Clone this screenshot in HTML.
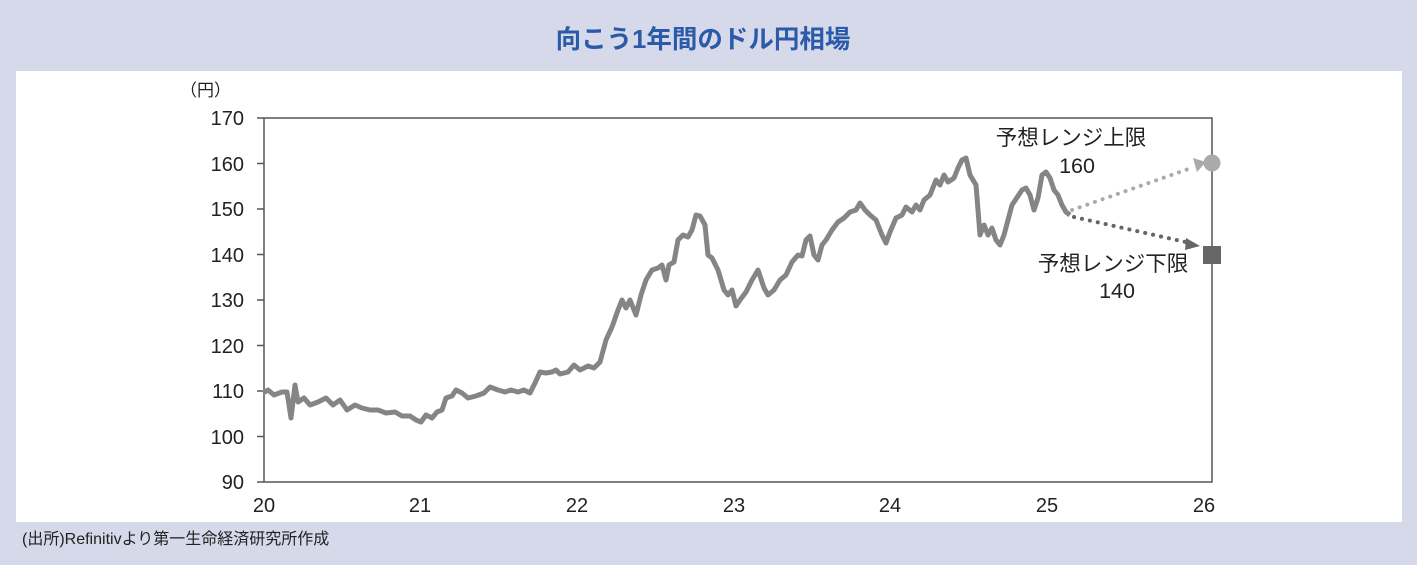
<!DOCTYPE html>
<html><head><meta charset="utf-8"><style>
body{margin:0;width:1417px;height:565px;background:#d5d9ea;overflow:hidden;font-family:"Liberation Sans","Noto Sans CJK JP",sans-serif;}
</style></head><body>
<svg width="1417" height="565" xmlns="http://www.w3.org/2000/svg" style="position:absolute;left:0;top:0">
<rect x="16" y="71" width="1386" height="451" fill="#fff"/>
<text x="703" y="48" text-anchor="middle" font-size="25.5" font-weight="bold" fill="#2a5aa8" font-family="Liberation Sans, Noto Sans CJK JP, sans-serif">向こう1年間のドル円相場</text>
<text x="22" y="544" font-size="16" fill="#222" font-family="Liberation Sans, Noto Sans CJK JP, sans-serif">(出所)Refinitivより第一生命経済研究所作成</text>
<text x="180" y="96" font-size="17" fill="#222" font-family="Liberation Sans, Noto Sans CJK JP, sans-serif">（円）</text>
<rect x="264" y="118" width="948" height="364" fill="none" stroke="#555" stroke-width="1.5"/>
<g stroke="#555" stroke-width="1.5">
<line x1="257" y1="118" x2="264" y2="118"/><line x1="257" y1="163.5" x2="264" y2="163.5"/><line x1="257" y1="209" x2="264" y2="209"/><line x1="257" y1="254.5" x2="264" y2="254.5"/><line x1="257" y1="300" x2="264" y2="300"/><line x1="257" y1="345.5" x2="264" y2="345.5"/><line x1="257" y1="391" x2="264" y2="391"/><line x1="257" y1="436.5" x2="264" y2="436.5"/><line x1="257" y1="482" x2="264" y2="482"/>
</g>
<g font-size="20" fill="#222" text-anchor="end" font-family="Liberation Sans, sans-serif">
<text x="244" y="125">170</text><text x="244" y="171">160</text><text x="244" y="216">150</text><text x="244" y="262">140</text><text x="244" y="307">130</text><text x="244" y="353">120</text><text x="244" y="398">110</text><text x="244" y="444">100</text><text x="244" y="489">90</text>
</g>
<g font-size="20" fill="#222" text-anchor="middle" font-family="Liberation Sans, sans-serif">
<text x="264" y="512">20</text><text x="420" y="512">21</text><text x="577" y="512">22</text><text x="734" y="512">23</text><text x="890" y="512">24</text><text x="1047" y="512">25</text><text x="1204" y="512">26</text>
</g>
<polyline fill="none" stroke="#858585" stroke-width="5" stroke-linejoin="round" points="263,393 268,390 274,395 282,392 287,392 291,418 295,385 298,402 304,398 310,405 318,402 326,398 333,405 340,400 347,410 355,405 362,408 370,410 378,410 386,413 395,412 402,416 410,416 416,420 421,422 426,415 432,418 437,412 442,410 446,398 452,396 456,390 462,393 468,398 476,396 484,393 490,387 498,390 505,392 511,390 518,392 524,390 530,393 535,383 540,372 546,373 552,372 556,370 560,374 568,372 574,365 580,370 588,366 594,368 600,362 606,340 612,327 618,310 622,300 626,308 630,300 636,315 641,295 646,280 652,270 658,268 662,265 666,280 669,265 674,262 678,240 683,235 688,237 692,230 696,215 700,216 705,225 708,255 712,258 718,270 724,290 728,295 732,290 736,306 740,300 746,292 752,280 758,270 764,288 768,295 774,290 780,280 786,275 792,262 798,255 802,256 806,240 810,236 814,255 818,260 822,245 826,240 832,230 838,222 844,218 850,212 856,210 860,203 865,210 870,215 876,220 882,235 886,243 890,232 896,218 902,215 906,207 912,212 916,205 920,210 924,200 930,195 936,180 940,185 944,175 948,182 954,178 958,168 962,160 966,158 970,175 976,185 980,235 984,225 988,235 992,228 996,240 1000,245 1004,235 1008,220 1012,205 1018,196 1022,190 1026,188 1030,195 1034,210 1038,198 1042,175 1046,172 1050,178 1054,190 1058,195 1062,205 1066,212 1070,215"/>
<line x1="1072" y1="210" x2="1194" y2="167" stroke="#aaa" stroke-width="4" stroke-dasharray="0.1 8" stroke-linecap="round"/>
<polygon points="1206,162 1193,158 1197,172" fill="#aaa"/>
<circle cx="1212" cy="163" r="8.5" fill="#aaa"/>
<line x1="1074" y1="217" x2="1190" y2="243" stroke="#666" stroke-width="4" stroke-dasharray="0.1 8" stroke-linecap="round"/>
<polygon points="1200,246 1186,238 1185,250" fill="#666"/>
<rect x="1203" y="246" width="18" height="18" fill="#666"/>
<g font-size="21.5" fill="#222" text-anchor="middle" font-family="Liberation Sans, Noto Sans CJK JP, sans-serif">
<text x="1071" y="145">予想レンジ上限</text><text x="1077" y="173">160</text>
<text x="1113" y="271">予想レンジ下限</text><text x="1117" y="298">140</text>
</g>
</svg>
</body></html>
